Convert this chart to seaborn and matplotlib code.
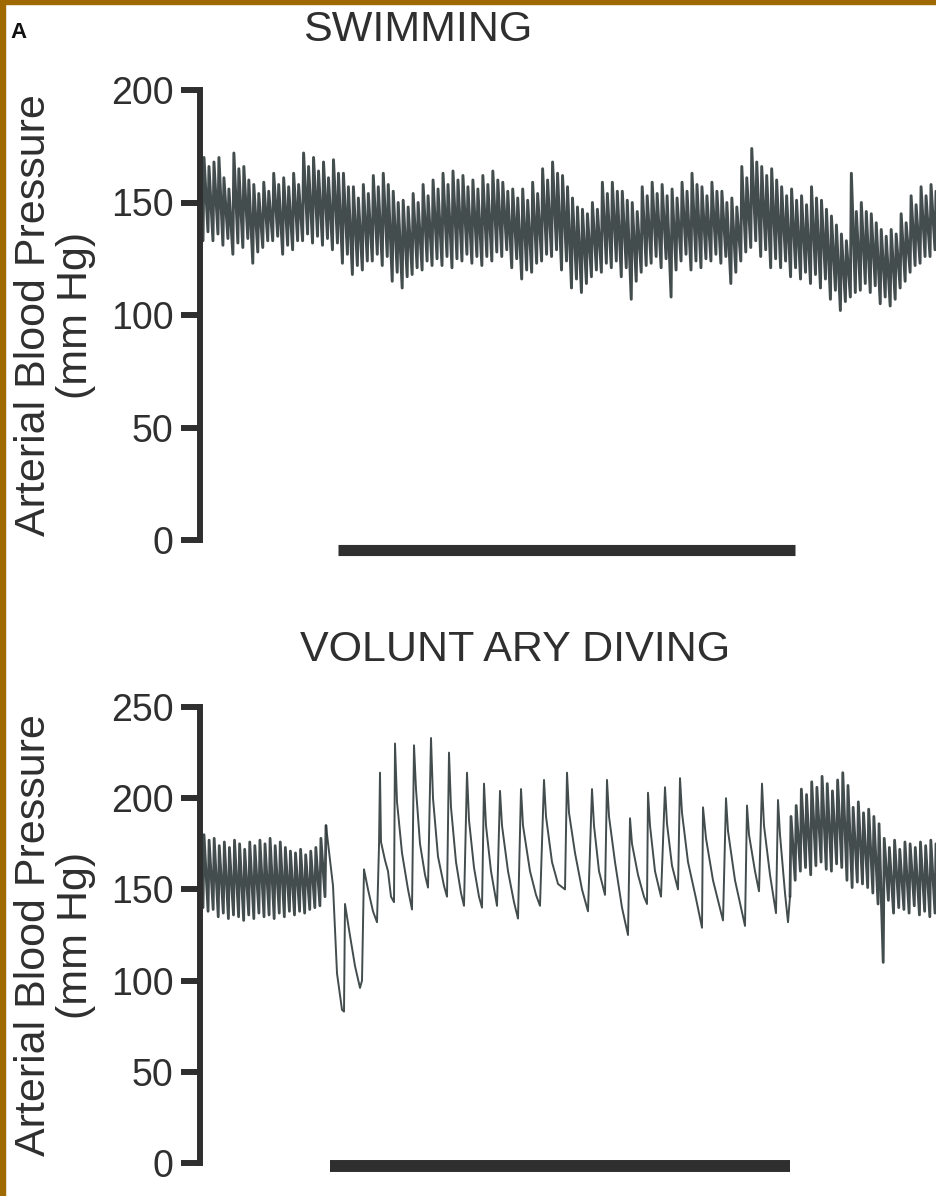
import matplotlib
matplotlib.use("Agg")
import matplotlib.pyplot as plt
from matplotlib.patches import Rectangle
import numpy as np
import pandas as pd
import seaborn as sns

# time axis: 0.1 s units, trace starts at the y axis
# --- SWIMMING: beat-by-beat systolic / diastolic pressure (mm Hg)
swim_sys = [170, 166, 168, 170, 161, 156, 172, 165, 166, 160, 158, 154, 159, 155, 163, 158,
            161, 157, 163, 158, 172, 166, 170, 164, 168, 161, 169, 163, 163, 157, 157, 152,
            158, 154, 162, 157, 163, 158, 155, 150, 151, 148, 154, 150, 158, 153, 160, 156,
            163, 158, 164, 160, 162, 157, 160, 156, 162, 158, 164, 160, 159, 155, 156, 152,
            156, 151, 159, 154, 165, 160, 168, 163, 162, 157, 152, 148, 147, 145, 150, 147,
            159, 154, 159, 155, 155, 151, 150, 146, 157, 153, 159, 154, 158, 153, 156, 152,
            159, 155, 163, 158, 157, 153, 159, 155, 155, 150, 152, 148, 166, 161, 174, 168,
            166, 162, 165, 160, 157, 153, 156, 151, 153, 149, 157, 152, 151, 147, 144, 140,
            136, 133, 163, 146, 150, 146, 145, 141, 138, 135, 138, 136, 145, 141, 153, 149,
            157, 153, 158, 155]
swim_dia = [133, 137, 133, 136, 131, 134, 127, 132, 130, 134, 123, 128, 130, 133, 133, 135,
            127, 131, 129, 133, 133, 136, 132, 135, 131, 134, 129, 132, 123, 127, 118, 122,
            120, 124, 124, 127, 122, 126, 115, 119, 112, 117, 118, 121, 120, 124, 122, 125,
            122, 126, 121, 125, 124, 127, 123, 126, 122, 126, 124, 128, 126, 129, 121, 125,
            116, 120, 119, 123, 124, 127, 126, 129, 120, 124, 112, 116, 110, 114, 117, 120,
            119, 123, 121, 124, 117, 121, 107, 115, 119, 122, 123, 126, 121, 125, 108, 120,
            124, 127, 120, 124, 121, 125, 124, 127, 123, 126, 114, 119, 124, 128, 130, 133,
            126, 129, 121, 125, 121, 124, 117, 121, 116, 119, 114, 118, 112, 116, 107, 111,
            102, 106, 108, 110, 111, 114, 110, 113, 105, 108, 104, 107, 112, 115, 119, 122,
            123, 126, 126, 129]

# --- VOLUNTARY DIVING: pre-dive beats, dive trace, recovery beats
rest_sys = [180, 177, 178, 174, 176, 173, 177, 175, 172, 176, 174, 177, 175,
            178, 174, 176, 173, 171, 170, 172, 169, 171, 173, 178, 185]
rest_dia = [140, 138, 139, 135, 137, 134, 136, 135, 133, 136, 134, 137, 135,
            136, 134, 137, 135, 138, 136, 138, 137, 139, 140, 141, 146]

dive_t = [133, 137, 142, 144, 145, 149, 155, 160, 162, 164, 168, 173, 177, 179, 180, 181,
          185, 188, 191, 194, 195, 197, 202, 208, 212, 214, 216, 220, 225, 228, 231, 233,
          238, 244, 247, 249, 251, 256, 261, 264, 267, 269, 274, 279, 282, 284, 286, 291,
          297, 300, 302, 308, 314, 318, 321, 323, 330, 336, 340, 344, 346, 352, 358, 365,
          367, 369, 375, 382, 388, 392, 394, 399, 405, 407, 409, 415, 422, 428, 430, 432,
          438, 444, 447, 448, 450, 455, 461, 465, 467, 472, 478, 480, 482, 488, 496, 502,
          503, 506, 513, 523, 526, 528, 535, 545, 547, 549, 555, 559, 562, 564, 570, 576,
          578, 580, 585, 588]
dive_p = [152, 104, 84, 83, 142, 128, 108, 96, 100, 161, 150, 138, 132, 174, 214, 176,
          166, 160, 146, 143, 230, 198, 170, 150, 139, 229, 205, 175, 158, 151, 233, 200,
          168, 152, 146, 225, 195, 165, 148, 141, 214, 188, 162, 146, 140, 208, 185, 160,
          141, 204, 185, 160, 143, 134, 205, 185, 160, 147, 141, 210, 190, 165, 153, 150,
          214, 192, 170, 150, 138, 205, 185, 160, 147, 210, 190, 165, 140, 125, 189, 175,
          158, 146, 142, 203, 185, 160, 146, 206, 186, 163, 150, 211, 192, 165, 145, 129,
          195, 178, 155, 133, 200, 182, 155, 130, 196, 180, 160, 149, 208, 185, 158, 137,
          199, 180, 148, 132]

rec_sys = [190, 196, 205, 202, 209, 206, 212, 208, 204, 210, 214, 207, 195, 198, 192,
           194, 190, 186, 178, 173, 177, 172, 176, 175, 173, 176, 174, 177, 175]
rec_dia = [146, 155, 160, 162, 158, 163, 165, 161, 160, 164, 162, 155, 151, 154, 153,
           151, 148, 142, 110, 144, 137, 140, 139, 137, 141, 136, 138, 135, 137]

# submersion bars (start, end)
swim_bar = (138, 595)
dive_bar = (130, 590)


def beats(times, sys_vals, dia_vals):
    t, p = [], []
    for ti, s, d in zip(times, sys_vals, dia_vals):
        t += [ti, ti + 1.0]
        p += [d, s]
    return pd.DataFrame({"t": t, "p": p})


sns.set_style("white")
plt.rcParams["font.family"] = ["Liberation Sans", "DejaVu Sans"]
ink = "#2f2f2f"
trace_col = "#2f3939"

fig = plt.figure(figsize=(9.37, 11.96), dpi=100)

# frame
fig.patches.append(Rectangle((0, 0), 5 / 937, 1, transform=fig.transFigure,
                             color="#a06a02", zorder=10))
fig.patches.append(Rectangle((0, 1 - 4 / 1196), 1, 4 / 1196, transform=fig.transFigure,
                             color="#a06a02", zorder=10))

ax1 = fig.add_axes([200 / 937, 1 - 562.5 / 1196, 737 / 937, 472.5 / 1196])
ax2 = fig.add_axes([200 / 937, 1 - 1184.9 / 1196, 737 / 937, 477.9 / 1196])

# swimming trace
swim = beats(np.linspace(3, 735, len(swim_sys)), swim_sys, swim_dia)
sns.lineplot(data=swim, x="t", y="p", sort=False, estimator=None, ax=ax1,
             color=trace_col, lw=2.1, alpha=0.9)
ax1.plot(swim_bar, [-4.4, -4.4], color=ink, lw=8, solid_capstyle="butt")
ax1.set_ylim(-10, 200)
ax1.set_yticks([0, 50, 100, 150, 200])

# diving trace
rest = beats(np.linspace(3, 125, len(rest_sys)), rest_sys, rest_dia)
rec = beats(np.linspace(590, 735, len(rec_sys)), rec_sys, rec_dia)
dive = pd.DataFrame({"t": [rest.t.iloc[-1]] + dive_t + [rec.t.iloc[0]],
                     "p": [rest.p.iloc[-1]] + dive_p + [rec.p.iloc[0]]})
for part, lw in [(rest, 2.0), (dive, 1.4), (rec, 2.0)]:
    sns.lineplot(data=part, x="t", y="p", sort=False, estimator=None, ax=ax2,
                 color=trace_col, lw=lw, alpha=0.9)
ax2.plot(dive_bar, [-1.8, -1.8], color=ink, lw=8.6, solid_capstyle="butt")
ax2.set_ylim(-12, 250)
ax2.set_yticks([0, 50, 100, 150, 200, 250])

for ax, top in [(ax1, 200), (ax2, 250)]:
    ax.set_xlim(0, 737)
    ax.set_xticks([])
    ax.set_xlabel("")
    ax.set_ylabel("")
    for s in ["top", "right", "bottom"]:
        ax.spines[s].set_visible(False)
    ax.spines["left"].set_bounds(0, top)
    ax.spines["left"].set_linewidth(4.3)
    ax.spines["left"].set_color(ink)
    ax.tick_params(axis="y", left=True, length=14, width=4.3, color=ink,
                   labelsize=27, labelcolor=ink, pad=5)
    ax.patch.set_alpha(0)
    ax.text(-0.197, top / 2, "Arterial Blood Pressure\n(mm Hg)",
            transform=ax.get_yaxis_transform(), rotation=90, ha="center",
            va="center", multialignment="center", fontsize=31, color=ink,
            linespacing=1.05)

fig.text(418 / 937, 1 - 30 / 1196, "SWIMMING", ha="center", va="center",
         fontsize=31, color=ink)
fig.text(515 / 937, 1 - 650 / 1196, "VOLUNT ARY DIVING", ha="center",
         va="center", fontsize=31, color=ink)
fig.text(10 / 937, 1 - 33 / 1196, "A", ha="left", va="center", fontsize=16,
         fontweight="bold", color="#111111")

fig.savefig("out.png", dpi=100)
